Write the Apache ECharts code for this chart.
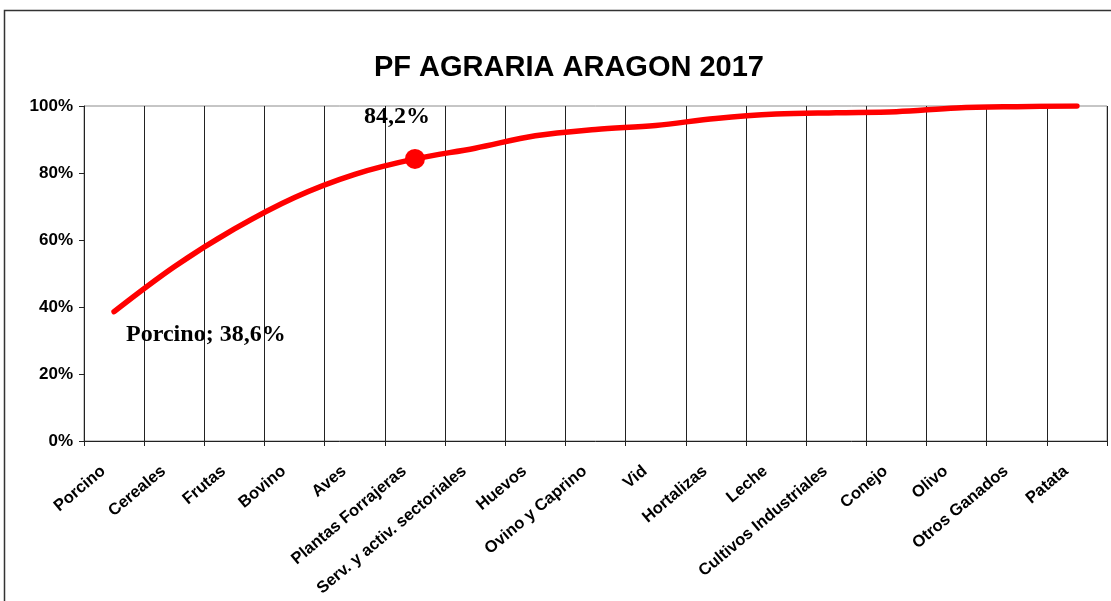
<!DOCTYPE html>
<html>
<head>
<meta charset="utf-8">
<title>PF AGRARIA ARAGON 2017</title>
<script src="https://cdn.jsdelivr.net/npm/echarts@6/dist/echarts.min.js"></script>
<style>
  html, body { margin: 0; padding: 0; background: #fff; }
  #chart { width: 1111px; height: 601px; }
</style>
</head>
<body>
<div id="chart"></div>
<script>
// Cumulative share of agricultural production by sector (%)
const categories = [
  'Porcino', 'Cereales', 'Frutas', 'Bovino', 'Aves', 'Plantas Forrajeras',
  'Serv. y activ. sectoriales', 'Huevos', 'Ovino y Caprino', 'Vid', 'Hortalizas',
  'Leche', 'Cultivos Industriales', 'Conejo', 'Olivo', 'Otros Ganados', 'Patata'
];
const cumulative = [
  38.6, 52.0, 63.3, 72.7, 79.6, 84.2,
  87.4, 91.1, 93.0, 94.2, 96.3,
  97.6, 98.0, 98.3, 99.4, 99.8, 100.0
];
const yTicks = [0, 20, 40, 60, 80, 100];
const titleText = 'PF AGRARIA ARAGON 2017';
const highlightIndex = 5;   // point drawn with a dot and its value
const namedIndex = 0;       // point labelled with its category name

const fmtPct = v => v.toFixed(1).replace('.', ',') + '%';

const serifLabel = {
  show: true,
  fontFamily: 'Liberation Serif, Times New Roman, serif',
  fontWeight: 'bold',
  fontSize: 24,
  color: '#000'
};

const seriesData = cumulative.map((v, i) => {
  const item = { value: v };
  if (i === highlightIndex) {
    item.symbolSize = 20;
    item.label = Object.assign({}, serifLabel, {
      position: 'inside', align: 'center', verticalAlign: 'middle',
      offset: [-18, -42],
      formatter: p => fmtPct(p.value)
    });
  } else if (i === namedIndex) {
    item.label = Object.assign({}, serifLabel, {
      position: 'inside', align: 'left', verticalAlign: 'middle',
      offset: [12, 23],
      formatter: p => p.name + '; ' + fmtPct(p.value)
    });
  }
  return item;
});

const chart = echarts.init(document.getElementById('chart'), null, { renderer: 'canvas' });

chart.setOption({
  animation: false,
  backgroundColor: '#fff',
  title: {
    text: titleText,
    left: 369,
    top: 48,
    textStyle: {
      fontFamily: 'Liberation Sans, Arial, sans-serif',
      fontWeight: 'bold',
      fontSize: 29,
      color: '#000'
    }
  },
  graphic: [{
    type: 'rect',
    silent: true,
    shape: { x: 4.5, y: 10.5, width: 1200, height: 700 },
    style: { fill: 'none', stroke: '#333', lineWidth: 1.5 }
  }],
  grid: {
    left: 84,
    right: 4,
    top: 106,
    bottom: 160,
    outerBoundsMode: 'none',
    containLabel: false,
    show: true,
    borderColor: '#8c8c8c',
    borderWidth: 1,
    backgroundColor: 'transparent'
  },
  xAxis: {
    type: 'category',
    data: categories,
    boundaryGap: true,
    axisLine: { show: true, lineStyle: { color: '#222', width: 1 } },
    axisTick: { show: true, length: 5, inside: false, lineStyle: { color: '#222' } },
    splitLine: { show: true, lineStyle: { color: '#222', width: 1 } },
    axisLabel: {
      interval: 0,
      rotate: 40,
      margin: 19,
      padding: [0, 14, 0, 0],
      fontFamily: 'Liberation Sans, Arial, sans-serif',
      fontWeight: 'bold',
      fontSize: 16.5,
      color: '#000'
    }
  },
  yAxis: {
    type: 'value',
    min: yTicks[0],
    max: yTicks[yTicks.length - 1],
    interval: yTicks[1] - yTicks[0],
    axisLine: { show: true, lineStyle: { color: '#222', width: 1 } },
    axisTick: { show: true, length: 5, inside: false, lineStyle: { color: '#222' } },
    splitLine: { show: false },
    axisLabel: {
      formatter: '{value}%',
      margin: 11,
      fontFamily: 'Liberation Sans, Arial, sans-serif',
      fontWeight: 'bold',
      fontSize: 17,
      color: '#000'
    }
  },
  series: [{
    type: 'line',
    data: seriesData,
    smooth: 0.35,
    symbol: 'circle',
    symbolSize: 0,
    showSymbol: true,
    showAllSymbol: true,
    lineStyle: { color: '#ff0000', width: 5.5, cap: 'round' },
    itemStyle: { color: '#ff0000' },
    emphasis: { disabled: true },
    z: 5
  }]
});
</script>
</body>
</html>
